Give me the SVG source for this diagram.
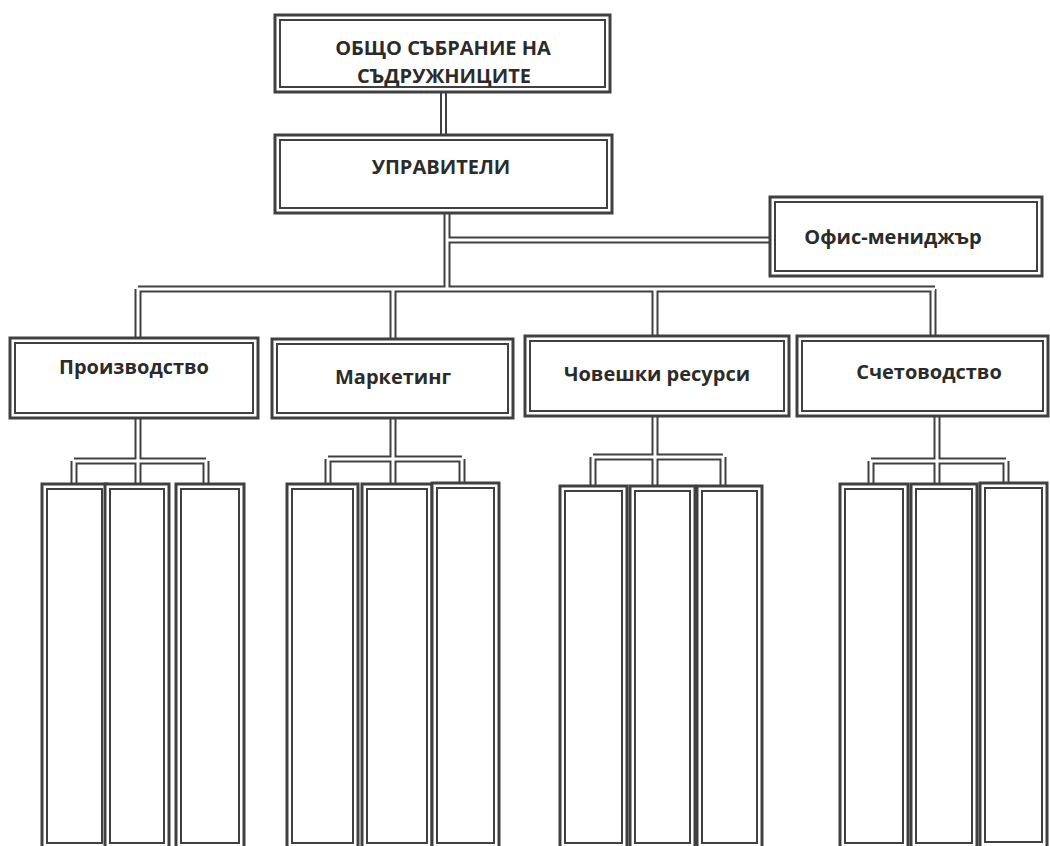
<svg xmlns="http://www.w3.org/2000/svg" xmlns:xlink="http://www.w3.org/1999/xlink" width="1050" height="846" viewBox="0 0 1050 846">
<style>
.o{fill:#fff;stroke:#404040;stroke-width:3}
.i{fill:none;stroke:#404040;stroke-width:2}
.cd{fill:none;stroke:#404040;stroke-width:7}
.cw{fill:none;stroke:#fff;stroke-width:3}
.t{font-family:"Open Sans","Noto Sans","Liberation Sans",sans-serif;font-weight:bold;font-size:20px;fill:#2b2b2b;text-anchor:middle}
</style>
<defs>
<path id="conn" d="M443.5 92V135 M447 213V289 M447 240H770 M138 289H935 M138 289V338 M393 289V339 M655 289V336 M933 289V336 M138 418V486 M74 461H206 M74 461V486 M206 461V484 M393 418V484 M328 459H462 M328 459V484 M462 459V484 M655 416V486 M593 457H723 M593 457V486 M723 457V486 M937 416V484 M871 461H1006 M871 461V484 M1006 461V484"/>
</defs>
<rect width="1050" height="846" fill="#fff"/>
<g id="connectors">
<use xlink:href="#conn" class="cd"/>
<use xlink:href="#conn" class="cw"/>
</g>
<g id="general-assembly">
<rect class="o" x="275" y="15" width="335" height="77"/>
<rect class="i" x="280" y="20" width="325" height="67"/>
<text class="t" x="443" y="55">ОБЩО СЪБРАНИЕ НА</text>
<text class="t" x="444" y="83">СЪДРУЖНИЦИТЕ</text>
</g>
<g id="managers">
<rect class="o" x="275" y="135" width="337" height="78"/>
<rect class="i" x="280" y="140" width="327" height="68"/>
<text class="t" x="441" y="174">УПРАВИТЕЛИ</text>
</g>
<g id="office-manager">
<rect class="o" x="770" y="197" width="272" height="79"/>
<rect class="i" x="775" y="202" width="262" height="69"/>
<text class="t" x="893" y="244">Офис-мениджър</text>
</g>
<g id="production">
<rect class="o" x="10" y="338" width="248" height="80"/>
<rect class="i" x="15" y="343" width="238" height="70"/>
<text class="t" x="134" y="374">Производство</text>
</g>
<g id="marketing">
<rect class="o" x="272" y="339" width="241" height="79"/>
<rect class="i" x="277" y="344" width="231" height="69"/>
<text class="t" x="393" y="384">Маркетинг</text>
</g>
<g id="hr">
<rect class="o" x="525" y="336" width="264" height="80"/>
<rect class="i" x="530" y="341" width="254" height="70"/>
<text class="t" x="657" y="381">Човешки ресурси</text>
</g>
<g id="accounting">
<rect class="o" x="797" y="336" width="251" height="80"/>
<rect class="i" x="802" y="341" width="241" height="70"/>
<text class="t" x="929" y="379">Счетоводство</text>
</g>
<g id="prod-1"><rect class="o" x="42" y="484" width="65" height="390"/><rect class="i" x="47" y="489" width="55" height="354"/></g>
<g id="prod-2"><rect class="o" x="105" y="484" width="64" height="390"/><rect class="i" x="110" y="489" width="54" height="354"/></g>
<g id="prod-3"><rect class="o" x="176" y="484" width="68" height="390"/><rect class="i" x="181" y="489" width="58" height="354"/></g>
<g id="mkt-1"><rect class="o" x="287" y="484" width="71" height="390"/><rect class="i" x="292" y="489" width="61" height="354"/></g>
<g id="mkt-2"><rect class="o" x="362" y="484" width="70" height="390"/><rect class="i" x="367" y="489" width="60" height="354"/></g>
<g id="mkt-3"><rect class="o" x="432" y="483" width="67" height="390"/><rect class="i" x="437" y="488" width="57" height="355"/></g>
<g id="hr-1"><rect class="o" x="560" y="486" width="67" height="390"/><rect class="i" x="565" y="491" width="57" height="352"/></g>
<g id="hr-2"><rect class="o" x="630" y="486" width="65" height="390"/><rect class="i" x="635" y="491" width="55" height="352"/></g>
<g id="hr-3"><rect class="o" x="697" y="486" width="65" height="390"/><rect class="i" x="702" y="491" width="55" height="352"/></g>
<g id="acc-1"><rect class="o" x="840" y="484" width="68" height="390"/><rect class="i" x="845" y="489" width="58" height="354"/></g>
<g id="acc-2"><rect class="o" x="911" y="484" width="66" height="390"/><rect class="i" x="916" y="489" width="56" height="354"/></g>
<g id="acc-3"><rect class="o" x="980" y="483" width="67" height="390"/><rect class="i" x="985" y="488" width="57" height="354"/></g>
</svg>
